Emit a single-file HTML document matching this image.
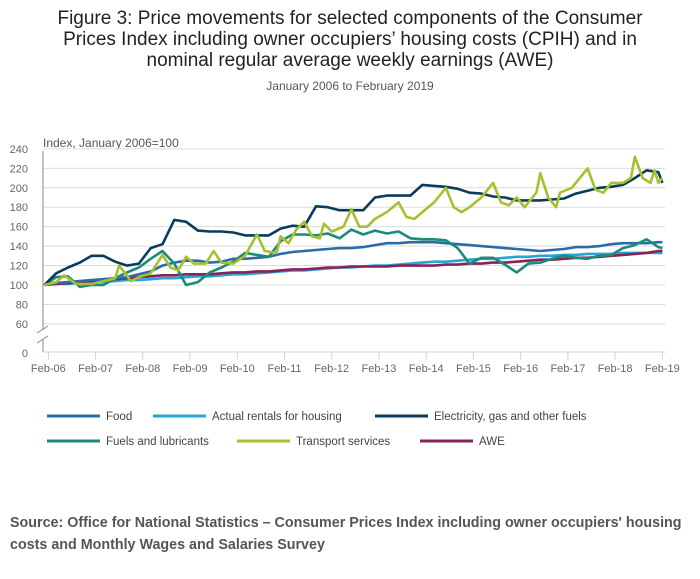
<!DOCTYPE html>
<html><head><meta charset="utf-8"><style>
body{margin:0;background:#fff;width:700px;height:574px;overflow:hidden;font-family:"Liberation Sans",sans-serif}
svg text{font-family:"Liberation Sans",sans-serif}
</style></head><body>
<svg id="chart" width="700" height="574">
<text x="350" y="24" text-anchor="middle" font-size="19" fill="#222">Figure 3: Price movements for selected components of the Consumer</text>
<text x="350" y="45" text-anchor="middle" font-size="19" fill="#222">Prices Index including owner occupiers’ housing costs (CPIH) and in</text>
<text x="350" y="66" text-anchor="middle" font-size="19" fill="#222">nominal regular average weekly earnings (AWE)</text>
<text x="350" y="90" text-anchor="middle" font-size="12" fill="#555">January 2006 to February 2019</text>
<text x="43" y="147" font-size="12" fill="#555">Index, January 2006=100</text>
<g id="grid"></g><g id="series"></g><g id="axes"></g><g id="legend"></g>
<text x="10" y="527" font-size="14.3" font-weight="bold" fill="#555">Source: Office for National Statistics – Consumer Prices Index including owner occupiers' housing</text>
<text x="10" y="549" font-size="14.3" font-weight="bold" fill="#555">costs and Monthly Wages and Salaries Survey</text>
</svg>
<script>
const yTicks=[60,80,100,120,140,160,180,200,220,240];
const xLabels=["Feb-06","Feb-07","Feb-08","Feb-09","Feb-10","Feb-11","Feb-12","Feb-13","Feb-14","Feb-15","Feb-16","Feb-17","Feb-18","Feb-19"];
const qMonths=[0,3,6,9,12,15,18,21,24,27,30,33,36,39,42,45,48,51,54,57,60,63,66,69,72,75,78,81,84,87,90,93,96,99,102,105,108,111,114,117,120,123,126,129,132,135,138,141,144,147,150,153,156,157];
const elecValues=[100,112,118,123,130,130,124,120,122,138,142,167,165,156,155,155,154,151,151,151,158,161,160,181,180,177,177,177,190,192,192,192,203,202,201,199,195,194,191,190,187,187,187,188,189,194,197,200,201,203,210,218,216,205];
const foodValues=[100,102,103,104,105,106,107,108,111,114,120,123,125,125,123,124,127,127,128,129,132,134,135,136,137,138,138,139,141,143,143,144,144,144,143,142,141,140,139,138,137,136,135,136,137,139,139,140,142,143,143,143,144,144];
const rentValues=[100,101,101,102,103,103,104,105,105,106,107,107,108,109,109,110,111,111,112,113,114,115,115,116,117,118,118,119,120,120,121,122,123,124,124,125,126,127,127,128,129,129,130,130,131,131,132,132,132,133,133,133,133,133];
const aweValues=[100,101,102,103,104,105,106,107,108,109,110,110,111,111,111,112,113,113,114,114,115,116,116,117,118,118,119,119,119,119,120,120,120,120,121,121,122,122,123,123,124,125,126,126,127,128,128,129,130,131,132,133,135,135];
const fuelValues=[100,108,109,98,100,100,107,113,118,127,135,122,100,103,113,118,124,133,131,129,145,152,152,151,153,148,157,152,156,153,155,148,147,147,146,138,122,128,128,121,113,122,123,127,130,128,127,130,131,138,141,147,139,138];
const transMonths=[0,3,5,8,12,15,18,19,22,24,27,30,32,34,36,38,41,43,45,48,51,54,56,59,60,62,64,66,68,70,71,73,76,78,80,82,84,87,90,92,94,96,99,102,104,106,108,111,114,116,118,120,122,125,126,128,130,131,134,138,140,142,144,147,149,150,152,154,155,156,157];
const transValues=[100,103,110,101,101,104,107,120,104,108,112,131,118,115,129,122,122,135,123,122,130,152,135,133,150,143,157,165,150,148,163,155,160,178,160,160,168,175,185,170,168,175,185,200,180,175,180,190,205,185,182,190,180,195,215,190,180,195,200,220,198,195,205,205,210,232,210,205,218,205,210];
const seriesList=[
 {name:"food",color:"#2a6ca8",m:qMonths,v:foodValues,label:"Food"},
 {name:"rentals",color:"#27a4d8",m:qMonths,v:rentValues,label:"Actual rentals for housing"},
 {name:"electricity",color:"#0b3c5d",m:qMonths,v:elecValues,label:"Electricity, gas and other fuels"},
 {name:"fuels",color:"#1b8c7a",m:qMonths,v:fuelValues,label:"Fuels and lubricants"},
 {name:"transport",color:"#a8bf2e",m:transMonths,v:transValues,label:"Transport services"},
 {name:"awe",color:"#862457",m:qMonths,v:aweValues,label:"AWE"}];
const NS="http://www.w3.org/2000/svg";
const x=m=>44.4+m*3.936;
const y=v=>285-(v-100)*0.972;
function mk(tag,attrs,parent){const e=document.createElementNS(NS,tag);for(const k in attrs)e.setAttribute(k,attrs[k]);parent.appendChild(e);return e;}
const grid=document.getElementById('grid'),axes=document.getElementById('axes'),ser=document.getElementById('series'),leg=document.getElementById('legend');
yTicks.forEach(t=>{
 const l=mk('line',{x1:43,x2:665,y1:y(t),y2:y(t),stroke:"#dcdcdc","stroke-width":1},grid);
 
 
 const tx=mk('text',{x:28,y:y(t)+4,"text-anchor":"end","font-size":11,fill:"#666"},axes);
 tx.textContent=t;
 
 
});
const z=mk('text',{x:28,y:357,"text-anchor":"end","font-size":11,fill:"#666"},axes);z.textContent="0";


const ya=mk('path',{d:"M43,151 V330 M43,340 V352",stroke:"#888",fill:"none"},axes);


const br=mk('path',{d:"M37,333 L48,326 M37,343 L48,336",stroke:"#888",fill:"none"},axes);


const xa=mk('line',{x1:43,x2:665,y1:352,y2:352,stroke:"#c9d6ea"},axes);


xLabels.forEach((lb,i)=>{const xx=x(1+12*i);
 const tk=mk('line',{x1:xx,x2:xx,y1:352,y2:360,stroke:"#c9d6ea"},axes);
 
 
 const t=mk('text',{x:xx,y:372,"text-anchor":"middle","font-size":11,fill:"#666"},axes);t.textContent=lb;
 
 
});
const order=["rentals","awe","food","fuels","electricity","transport"];
order.forEach(n=>{const s=seriesList.find(q=>q.name===n);
 const d=s.m.map((mm,i)=>(i?"L":"M")+x(mm).toFixed(1)+","+y(s.v[i]).toFixed(1)).join(" ");
 const p=mk('path',{d:d,stroke:s.color,"stroke-width":2.6,fill:"none","stroke-linejoin":"round"},ser);
 
 
});
const legPos=[[47,416],[153,416],[375,416],[47,441],[237,441],[420,441]];
seriesList.forEach((s,i)=>{const [lx,ly]=legPos[i];
 const g=mk('g',{},leg);
 
 
 mk('line',{x1:lx,x2:lx+53,y1:ly,y2:ly,stroke:s.color,"stroke-width":3},g);
 const t=mk('text',{x:lx+59,y:ly+4,"font-size":11.5,fill:"#444"},g);t.textContent=s.label;
});
</script>
</body></html>
